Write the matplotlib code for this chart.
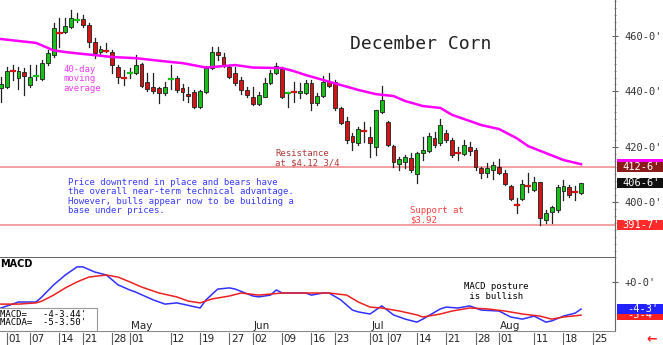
import matplotlib.pyplot as plt
from matplotlib.patches import Rectangle
from matplotlib.ticker import MultipleLocator

W, H = 663, 345

# daily candles, Mar 31 .. Aug 21 (one entry per trading day)
opens = [441.2, 441.6, 447.9, 444.8, 447.0, 442.3, 445.4, 444.4, 450.2, 453.1,
         461.6, 461.4, 463.2, 465.6, 466.1, 464.0, 457.8, 454.2, 455.0, 454.2,
         448.8, 445.3, 446.2, 446.6, 449.9, 443.4, 441.6, 441.2, 439.4, 444.3,
         444.8, 441.2, 439.0, 439.8, 434.3, 439.8, 448.4, 454.2, 452.4, 448.8,
         446.6, 444.1, 440.5, 437.9, 435.4, 437.9, 443.0, 446.6, 448.1, 439.3,
         439.9, 439.4, 439.4, 443.0, 435.8, 438.3, 443.4, 443.4, 434.0, 429.3,
         423.8, 421.3, 425.8, 423.5, 419.9, 432.5, 428.9, 420.2, 413.7, 414.5,
         415.9, 410.1, 417.7, 418.4, 423.1, 421.3, 424.9, 422.4, 417.9, 417.3,
         419.9, 418.8, 412.3, 410.5, 411.6, 412.6, 410.5, 405.8, 399.0, 401.1,
         405.9, 404.3, 407.2, 393.5, 396.4, 397.1, 404.0, 405.4, 403.7, 403.3]
highs = [445.2, 448.8, 449.5, 448.8, 448.4, 449.5, 449.5, 451.3, 454.9, 464.7,
         466.5, 466.5, 469.4, 468.3, 467.6, 464.7, 459.3, 456.4, 457.5, 454.9,
         449.5, 447.7, 448.4, 453.1, 450.2, 446.6, 446.6, 441.6, 443.4, 449.5,
         445.5, 442.6, 441.6, 440.5, 440.5, 449.1, 456.0, 456.0, 453.8, 449.5,
         448.8, 445.2, 441.6, 441.6, 439.8, 444.8, 447.7, 450.2, 448.8, 439.8,
         443.4, 443.0, 444.1, 444.1, 439.4, 445.5, 446.6, 444.1, 434.3, 430.7,
         424.9, 427.1, 428.9, 427.1, 433.2, 441.9, 429.3, 420.6, 416.3, 417.0,
         417.7, 418.1, 423.5, 424.9, 425.3, 430.0, 426.0, 423.1, 419.9, 422.4,
         421.7, 419.5, 412.6, 414.1, 414.5, 415.5, 411.6, 406.1, 401.4, 408.0,
         410.5, 409.0, 407.2, 397.1, 398.6, 406.1, 408.0, 406.1, 405.8, 407.0]
lows = [436.1, 441.2, 444.1, 440.8, 438.7, 441.6, 444.1, 444.1, 449.5, 452.4,
        456.0, 461.1, 462.9, 465.0, 463.2, 456.0, 452.0, 453.5, 454.2, 446.6,
        443.0, 442.3, 444.8, 446.3, 441.6, 440.1, 439.4, 435.8, 438.7, 440.8,
        439.8, 436.9, 436.1, 434.0, 434.0, 439.4, 448.1, 451.3, 448.8, 444.8,
        442.3, 439.0, 437.9, 435.1, 435.1, 437.9, 442.6, 446.3, 437.6, 434.3,
        436.1, 437.6, 439.0, 433.2, 435.1, 437.9, 441.6, 433.2, 428.2, 421.3,
        418.8, 420.6, 421.7, 416.3, 417.0, 432.2, 420.2, 412.6, 411.6, 412.3,
        410.8, 406.9, 415.2, 418.1, 419.9, 420.6, 421.7, 416.3, 415.2, 417.0,
        417.0, 411.6, 408.7, 409.0, 408.3, 410.1, 406.1, 400.7, 396.0, 400.7,
        403.6, 404.0, 391.75, 392.4, 392.4, 396.4, 400.7, 401.8, 400.7, 402.9]
closes = [442.6, 447.3, 447.5, 447.3, 445.5, 445.2, 445.7, 450.2, 453.8, 462.9,
          461.2, 463.6, 466.5, 465.9, 464.0, 457.8, 453.8, 455.3, 454.7, 449.5,
          445.2, 445.0, 446.5, 449.5, 441.9, 440.8, 440.1, 439.4, 441.6, 444.6,
          440.5, 439.8, 438.3, 434.3, 440.1, 448.4, 454.2, 453.1, 449.5, 445.2,
          443.0, 440.5, 438.7, 435.4, 438.7, 443.0, 446.6, 449.1, 437.9, 439.5,
          439.7, 440.1, 443.0, 435.8, 438.3, 443.4, 441.9, 434.0, 428.5, 422.4,
          421.7, 426.4, 425.5, 421.3, 433.2, 436.9, 420.6, 414.5, 415.5, 416.3,
          411.6, 417.7, 418.8, 423.8, 420.6, 427.8, 422.4, 417.0, 417.6, 420.6,
          418.4, 412.6, 410.5, 412.3, 413.4, 410.5, 406.5, 401.1, 398.8, 406.5,
          405.7, 407.2, 394.2, 396.0, 398.2, 405.4, 405.8, 402.5, 403.5, 406.75]

# 40-day moving average, read at some of the days
ma_idx = [0, 6, 9, 11, 14, 16, 19, 23, 26, 29, 31, 35, 40, 43, 48, 50, 52, 55,
          58, 61, 64, 67, 69, 72, 75, 77, 80, 82, 85, 88, 90, 93, 96, 99]
ma_val = [458.9, 457.5, 454.8, 454.2, 453.5, 453.1, 452.4, 452.0, 451.3, 450.6,
          450.2, 448.6, 449.5, 448.6, 448.4, 447.3, 445.9, 444.1, 442.3, 440.5,
          439.0, 438.3, 436.5, 434.7, 434.0, 431.5, 429.3, 427.8, 426.4, 423.1,
          420.2, 417.7, 415.2, 413.7]

# MACD (blue) and its average (red)
macd_idx = [0, 2, 3, 6, 7, 9, 11, 13, 14, 16, 18, 20, 22, 23, 26, 28, 30, 31,
            34, 35, 37, 39, 40, 43, 44, 46, 47, 48, 52, 53, 55, 56, 58, 60, 61,
            63, 65, 67, 69, 71, 72, 75, 76, 78, 80, 82, 85, 87, 89, 91, 93, 94,
            96, 98, 99]
macd_val = [-4.25, -3.6, -3.25, -3.25, -2.4, -0.4, 1.25, 2.6, 2.6, 1.75, 1.25,
            -0.4, -1.25, -1.6, -2.9, -3.6, -3.4, -3.6, -4.25, -2.9, -1.1, -0.9,
            -1.1, -2.25, -2.4, -2.1, -1.25, -1.75, -1.75, -2.1, -1.75, -1.75,
            -2.9, -4.6, -4.9, -5.25, -3.9, -5.4, -6.1, -6.6, -6.1, -4.4, -4.1,
            -4.25, -3.9, -4.6, -4.75, -5.75, -6.1, -5.6, -6.6, -6.4, -5.6, -5.1,
            -4.43]
sig_idx = [0, 3, 6, 7, 9, 11, 13, 15, 18, 20, 22, 24, 27, 30, 32, 34, 36, 39,
           41, 44, 48, 51, 56, 59, 61, 63, 65, 68, 71, 72, 75, 77, 80, 83, 86,
           89, 92, 94, 96, 99]
sig_val = [-3.6, -3.6, -3.4, -3.1, -2.1, -0.9, 0.1, 0.9, 1.25, 0.9, 0.1, -0.75,
           -1.75, -2.4, -3.1, -3.4, -2.75, -2.25, -1.75, -2.1, -1.75, -1.75,
           -1.75, -2.1, -3.25, -4.1, -4.25, -4.75, -5.4, -5.75, -5.25, -4.75,
           -4.25, -4.4, -4.75, -5.25, -5.6, -6.1, -5.75, -5.44]

# date axis
tick_idx = [1, 5, 10, 14, 19, 22, 29, 34, 39, 43, 48, 53, 57, 63, 66, 71, 76,
            81, 85, 91, 96, 101]
tick_lab = ['01', '07', '14', '21', '28', '01', '12', '19', '27', '02', '09',
            '16', '23', '01', '07', '14', '21', '28', '01', '11', '18', '25']
month_idx = [22, 43, 63, 85]
month_lab = ['May', 'Jun', 'Jul', 'Aug']

resistance = 412.75
support = 391.875
last_price = 406.75

MONO = 'DejaVu Sans Mono'
PX = 5.86  # pixels per trading day
X0 = -0.15


def fx(px):
    return px / W


def fy(py):
    return 1 - py / H


fig = plt.figure(figsize=(W / 100, H / 100), dpi=100)
ax = fig.add_axes([0, fy(258), fx(615), 258 / H])
axm = fig.add_axes([0, fy(331), fx(615), (331 - 258) / H])
axd = fig.add_axes([0, 0, 1, (345 - 331) / H])

# ---- price panel ----
for i in range(len(opens)):
    o, h, l, c = opens[i], highs[i], lows[i], closes[i]
    col = '#16c016' if c > o else '#d41414'
    ax.plot([i, i], [l, h], color='#222222', lw=0.9, zorder=2)
    if abs(c - o) < 0.6:
        ax.plot([i - 0.35, i + 0.35], [c, c], color=col, lw=1.6, zorder=3)
    else:
        ax.add_patch(Rectangle((i - 0.33, min(o, c)), 0.66, abs(c - o),
                               facecolor=col, edgecolor='#202020', lw=0.6, zorder=3))

ax.plot(ma_idx, ma_val, color='#ff00ff', lw=1.8, zorder=4)
ax.axhline(resistance, color='#f09090', lw=1.2, zorder=1)
ax.axhline(support, color='#f09090', lw=1.2, zorder=1)

ax.set_xlim(X0, X0 + 615 / PX)
ax.set_ylim(379.8, 473.0)
ax.set_xticks([])
ax.yaxis.tick_right()
ax.set_yticks([400, 420, 440, 460])
ax.set_yticklabels(["400-0'", "420-0'", "440-0'", "460-0'"])
ax.yaxis.set_minor_locator(MultipleLocator(2.5))
ax.tick_params(axis='y', which='major', length=4, direction='inout', labelsize=7.5,
               labelcolor='#333333', color='#666666', pad=5)
ax.tick_params(axis='y', which='minor', length=2, direction='inout', color='#888888')
for t in ax.get_yticklabels():
    t.set_family(MONO)
for s in ['left', 'top']:
    ax.spines[s].set_visible(False)
ax.spines['right'].set_color('#666666')
ax.spines['bottom'].set_color('#555555')
ax.spines['bottom'].set_linewidth(1.3)

# boxes on the price scale
ytr = ax.get_yaxis_transform()
boxes = [(ma_val[-1], '#ff00ff', '', 'white'),
         (resistance, '#8b1a1a', "412-6'", 'white'),
         (last_price, '#111111', "406-6'", 'white'),
         (support, '#ff2a2a', "391-7'", 'white')]
for val, bg, txt, fg in boxes:
    ax.add_patch(Rectangle((1.004, val - 1.8), 48 / 615, 3.6, transform=ytr,
                           facecolor=bg, edgecolor='none', clip_on=False, zorder=5))
    if txt:
        ax.text(1.012, val, txt, transform=ytr, color=fg, fontsize=7.5,
                family=MONO, va='center', ha='left', zorder=6)

# notes
fig.text(fx(350), fy(44), 'December Corn', fontsize=13, family=MONO,
         color='#222222', va='center')
fig.text(fx(63), fy(65), '40-day\nmoving\naverage', fontsize=6.5, family=MONO,
         color='#ee3cee', va='top', linespacing=1.05)
fig.text(fx(275), fy(149), 'Resistance\nat $4.12 3/4', fontsize=6.5, family=MONO,
         color='#b03a3a', va='top', linespacing=1.05)
fig.text(fx(68), fy(178), 'Price downtrend in place and bears have\n'
         'the overall near-term technical advantage.\n'
         'However, bulls appear now to be building a\n'
         'base under prices.', fontsize=6.5, family=MONO, color='#3a3aff',
         va='top', linespacing=1.05)
fig.text(fx(410), fy(206), 'Support at\n$3.92', fontsize=6.5, family=MONO,
         color='#ff4040', va='top', linespacing=1.05)

# ---- MACD panel ----
axm.plot(macd_idx, macd_val, color='#3030ff', lw=1.1)
axm.plot(sig_idx, sig_val, color='#ee2020', lw=1.1)
axm.set_xlim(X0, X0 + 615 / PX)
axm.set_ylim(-8.08, 4.08)
axm.set_xticks([])
axm.yaxis.tick_right()
axm.set_yticks([0])
axm.set_yticklabels(["+0-0'"])
axm.tick_params(axis='y', length=4, direction='inout', labelsize=7.5,
                labelcolor='#333333', color='#666666', pad=5)
for t in axm.get_yticklabels():
    t.set_family(MONO)
for s in ['left', 'top', 'bottom']:
    axm.spines[s].set_visible(False)
axm.spines['right'].set_color('#666666')

# value boxes: the red one sits under the blue one, as on the chart
mtr = axm.get_yaxis_transform()
z = 5
for val, bg, txt in [(sig_val[-1], '#ff2020', "-5-4'"), (macd_val[-1], '#2222ff', "-4-3'")]:
    axm.add_patch(Rectangle((1.004, val - 0.85), 48 / 615, 1.7, transform=mtr,
                            facecolor=bg, edgecolor='none', clip_on=False, zorder=z))
    axm.text(1.02, val, txt, transform=mtr, color='white', fontsize=7.5,
             family=MONO, va='center', ha='left', zorder=z + 1)
    z += 2

axm.text(X0 + 0.1, 3.0, 'MACD', fontsize=7, fontweight='bold', va='center')
axm.text(79, 0.0, 'MACD posture\n is bullish', fontsize=6.5, family=MONO,
         va='top', linespacing=1.05)
axm.add_patch(Rectangle((X0 - 0.5, -8.08), 100 / PX, 3.8, facecolor='white',
                        edgecolor='#999999', lw=0.8, zorder=5))
axm.text(X0 + 0.05, -5.25, "MACD=   -4-3.44'", fontsize=6.5, family=MONO,
         va='center', zorder=6)
axm.text(X0 + 0.05, -6.6, "MACDA=  -5-3.50'", fontsize=6.5, family=MONO,
         va='center', zorder=6)
for i, lab in zip(month_idx, month_lab):
    axm.text(i + 0.2, -7.3, lab, fontsize=7.5, va='center', color='#222222')

# ---- date strip ----
axd.set_xlim(X0, X0 + W / PX)
axd.set_ylim(0, 1)
axd.axis('off')
axd.axhline(1, xmax=615 / W, color='#888888', lw=0.8)
for i, lab in zip(tick_idx, tick_lab):
    axd.plot([i, i], [0, 0.85], color='#666666', lw=0.8)
    axd.text(i + 0.25, 0.4, lab, fontsize=7.5, va='center', color='#222222')
fig.text(fx(652), fy(339), '\u2190', color='#ff2020', fontsize=9,
         fontweight='bold', va='center', ha='center')

plt.savefig('out.png', dpi=100)
